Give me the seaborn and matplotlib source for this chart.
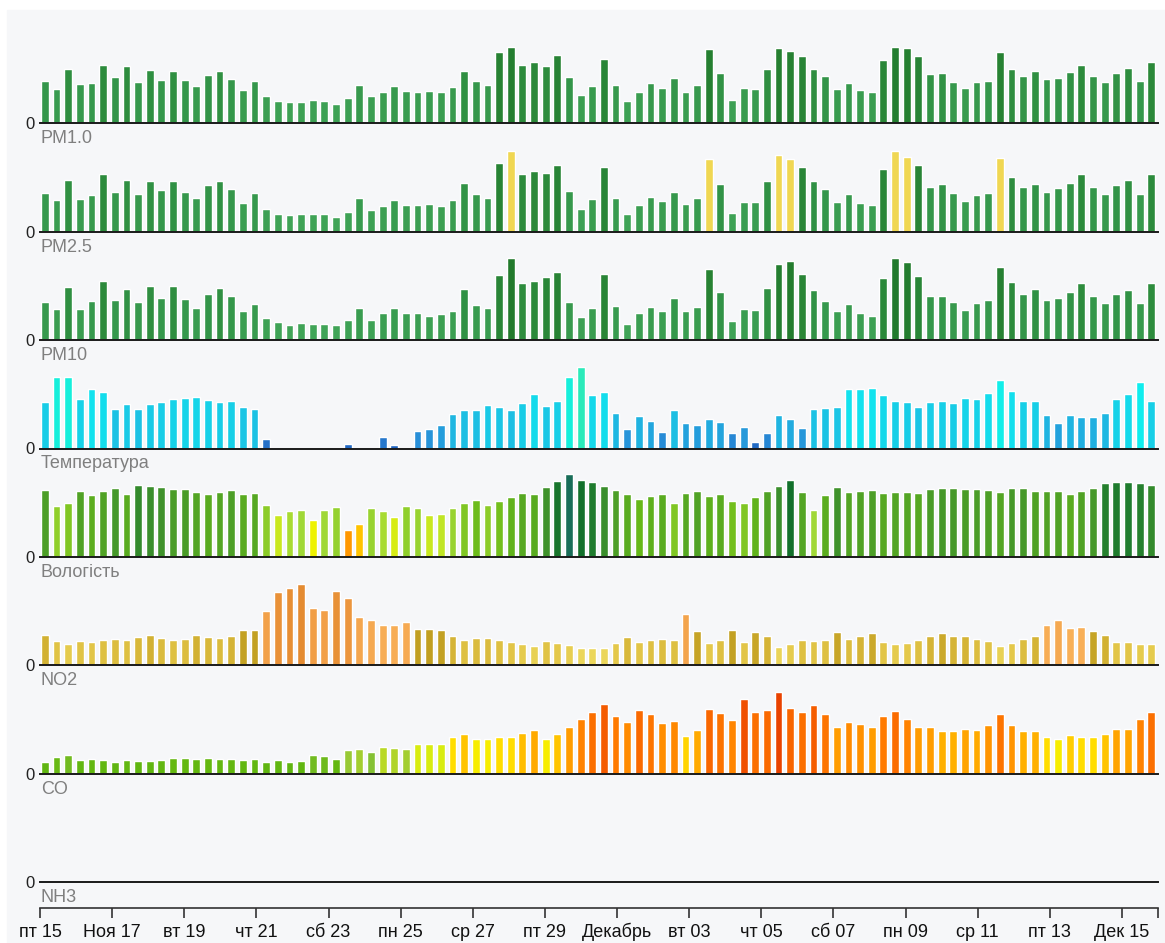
import numpy as np
import pandas as pd
import matplotlib
matplotlib.use("Agg")
import matplotlib.pyplot as plt
from matplotlib.colors import LinearSegmentedColormap, to_hex
from matplotlib.patches import Rectangle
import seaborn as sns

# ========================
# Data (one bar every 7h45m, 15 Nov -> 16 Dec)
# ========================

interval_h = 7.75

pm1 = [42, 34, 54, 39, 40, 58, 46, 57, 41, 53,
       43, 52, 43, 37, 48, 52, 44, 33, 42, 27,
       22, 21, 21, 23, 22, 19, 25, 38, 27, 31,
       37, 32, 31, 32, 31, 36, 52, 42, 38, 71,
       76, 58, 61, 57, 68, 46, 28, 37, 64, 38,
       22, 31, 40, 35, 45, 31, 38, 74, 50, 23,
       35, 34, 54, 75, 72, 67, 54, 47, 34, 40,
       33, 31, 63, 76, 75, 67, 49, 50, 41, 35,
       41, 42, 71, 54, 47, 52, 44, 45, 51, 58,
       47, 41, 50, 55, 42, 61]

pm25 = [39, 32, 52, 33, 37, 58, 40, 52, 38, 51,
        42, 51, 40, 34, 47, 51, 43, 29, 39, 23,
        18, 17, 18, 18, 18, 15, 20, 34, 22, 26,
        32, 27, 27, 28, 26, 32, 49, 38, 34, 69,
        81, 58, 61, 59, 67, 41, 23, 33, 65, 34,
        18, 27, 35, 31, 40, 28, 34, 73, 48, 19,
        30, 30, 51, 77, 73, 65, 51, 43, 30, 38,
        29, 27, 63, 81, 75, 67, 45, 48, 39, 31,
        37, 39, 74, 55, 45, 48, 40, 44, 49, 58,
        45, 38, 47, 52, 38, 58]

pm10 = [38, 31, 53, 31, 39, 59, 40, 51, 38, 54,
        42, 54, 41, 32, 46, 52, 44, 29, 36, 22,
        18, 15, 17, 16, 16, 15, 20, 32, 20, 27,
        32, 27, 27, 24, 26, 29, 51, 35, 32, 65,
        82, 57, 59, 63, 68, 38, 23, 32, 66, 34,
        16, 27, 33, 29, 42, 29, 33, 71, 48, 19,
        31, 30, 52, 76, 79, 66, 50, 39, 29, 36,
        27, 24, 62, 82, 78, 64, 44, 44, 38, 30,
        37, 40, 73, 58, 46, 51, 40, 42, 48, 57,
        44, 37, 46, 50, 37, 57]

temp = [47, 72, 72, 50, 60, 57, 40, 45, 40, 45,
        47, 50, 51, 52, 49, 47, 48, 42, 40, 10,
        0, 0, 0, 0, 0, 0, 5, 0, 0, 12,
        4, 0, 18, 20, 24, 35, 39, 39, 44, 42,
        39, 46, 55, 43, 48, 72, 82, 54, 57, 36,
        20, 33, 28, 17, 39, 26, 24, 30, 27, 16,
        22, 7, 16, 34, 30, 21, 40, 41, 42, 60,
        60, 61, 54, 48, 47, 42, 47, 48, 46, 51,
        50, 56, 69, 58, 48, 48, 34, 26, 34, 32,
        32, 36, 50, 55, 67, 48]

hum = [67, 51, 54, 66, 62, 66, 69, 63, 72, 71,
       70, 68, 68, 65, 63, 65, 67, 63, 64, 52,
       42, 46, 47, 37, 47, 50, 27, 33, 49, 46,
       40, 51, 49, 42, 43, 49, 54, 57, 52, 56,
       60, 64, 63, 70, 76, 83, 77, 75, 71, 67,
       63, 58, 61, 63, 54, 64, 66, 61, 63, 56,
       54, 60, 66, 71, 77, 65, 47, 62, 70, 65,
       66, 67, 64, 65, 65, 64, 68, 69, 69, 68,
       68, 67, 65, 69, 69, 66, 66, 66, 63, 66,
       69, 74, 75, 75, 74, 72]

no2 = [30, 24, 21, 24, 23, 25, 26, 25, 28, 30,
       27, 25, 26, 30, 28, 27, 29, 35, 35, 54,
       73, 77, 81, 57, 55, 74, 67, 48, 45, 40,
       40, 43, 36, 36, 35, 29, 25, 27, 27, 25,
       23, 21, 19, 24, 22, 20, 17, 17, 17, 22,
       28, 23, 25, 26, 25, 51, 34, 22, 25, 35,
       23, 33, 29, 18, 21, 25, 24, 25, 33, 26,
       29, 32, 23, 21, 22, 25, 29, 32, 29, 29,
       26, 24, 19, 22, 26, 29, 40, 45, 37, 38,
       34, 30, 23, 23, 21, 21]

co = [12, 17, 19, 14, 15, 14, 12, 14, 13, 13,
      14, 16, 16, 15, 16, 15, 15, 14, 15, 12,
      14, 12, 13, 19, 18, 15, 24, 25, 22, 27,
      26, 25, 30, 30, 30, 37, 40, 35, 35, 37,
      37, 41, 44, 35, 40, 47, 55, 62, 70, 58,
      52, 64, 60, 51, 53, 38, 44, 65, 61, 54,
      75, 62, 64, 82, 66, 62, 69, 60, 47, 52,
      50, 47, 58, 63, 55, 47, 47, 43, 43, 45,
      44, 49, 60, 49, 43, 43, 37, 35, 39, 37,
      37, 40, 45, 45, 55, 62]

nh3 = []

panel_names = ["PM1.0", "PM2.5", "PM10", "Температура", "Вологість", "NO2", "CO", "NH3"]

tick_labels = ["пт 15", "Ноя 17", "вт 19", "чт 21", "сб 23", "пн 25", "ср 27", "пт 29",
               "Декабрь", "вт 03", "чт 05", "сб 07", "пн 09", "ср 11", "пт 13", "Дек 15"]
n_days = 31

# ========================
# Colour scales
# ========================

def ramp(stops):
    lo, hi = stops[0][0], stops[-1][0]
    cmap = LinearSegmentedColormap.from_list("r", [((v - lo) / (hi - lo), c) for v, c in stops])
    return lambda v: to_hex(cmap(np.clip((v - lo) / (hi - lo), 0, 1)))

green = ramp([(15, "#40a457"), (45, "#34964a"), (60, "#2b893a"), (82, "#227a2c")])

def pm25_color(v):
    return "#f0d752" if v >= 71 else green(v)

temp_color = ramp([(0, "#1a5cbc"), (10, "#2470c8"), (18, "#2890d8"), (28, "#22a6de"),
                   (40, "#1cc2e4"), (50, "#16d2e8"), (60, "#12e2ee"), (68, "#10eeee"),
                   (74, "#18f0d2"), (84, "#30e8b4")])

hum_color = ramp([(25, "#ff8a00"), (33, "#ffc400"), (37, "#eef200"), (42, "#c8e820"),
                  (47, "#a0d836"), (52, "#8ccc28"), (58, "#66b818"), (64, "#56a822"),
                  (68, "#4a9c28"), (71, "#3a8e2c"), (75, "#1f7c2e"), (78, "#0c6a2a"),
                  (84, "#1a6e60")])

no2_low = ramp([(15, "#eedc62"), (22, "#e4c84a"), (28, "#d8b83a"), (33, "#c8a628"), (36.5, "#c09e20")])
no2_high = ramp([(36.5, "#f8b058"), (55, "#f2a048"), (82, "#e48a30")])

def no2_color(v):
    return no2_high(v) if v > 36.5 else no2_low(v)

co_color = ramp([(10, "#5eb412"), (16, "#64b810"), (20, "#78bc28"), (23, "#8cc43a"),
                 (26, "#b0d42a"), (30, "#d8ec10"), (34, "#f4f400"), (37, "#ffdc00"),
                 (41, "#ffbc00"), (45, "#ffa400"), (50, "#ff9000"), (58, "#ff7a00"),
                 (66, "#f86400"), (75, "#f05000"), (83, "#e84000")])

panels = [(panel_names[0], pm1, green), (panel_names[1], pm25, pm25_color),
          (panel_names[2], pm10, green), (panel_names[3], temp, temp_color),
          (panel_names[4], hum, hum_color), (panel_names[5], no2, no2_color),
          (panel_names[6], co, co_color), (panel_names[7], nh3, None)]

# ========================
# Figure
# ========================

sns.set_style("white")
plt.rcParams["font.family"] = ["Liberation Sans", "DejaVu Sans"]

W, H = 1165, 943
fig = plt.figure(figsize=(W / 100, H / 100), dpi=100, facecolor="white")
fig.patches.append(Rectangle((7 / W, 0), 1, 1 - 10 / H, transform=fig.transFigure,
                             color="#f6f7f9", zorder=-10))

per_day = 24 / interval_h
def day_pos(d):
    return d * per_day - 0.42

left, width = 40 / W, 1118 / W

for i, (name, vals, col) in enumerate(panels):
    base = 123.3 + 108.4 * i
    ax = fig.add_axes([left, 1 - base / H, width, 90 / H])
    ax.patch.set_visible(False)
    if vals:
        df = pd.DataFrame({"slot": np.arange(len(vals)), "value": vals})
        sns.barplot(data=df, x="slot", y="value", hue="slot",
                    palette=[col(v) for v in vals], legend=False,
                    width=0.67, saturation=1, errorbar=None, ax=ax)
    ax.set_xlim(day_pos(0), day_pos(n_days))
    ax.set_ylim(0, 90)
    for s in ["top", "left", "right"]:
        ax.spines[s].set_visible(False)
    ax.spines["bottom"].set_color("#1a1a1a")
    ax.spines["bottom"].set_linewidth(1.4)
    ax.set_xticks([])
    ax.set_yticks([0])
    ax.set_yticklabels(["0"])
    ax.tick_params(axis="y", length=0, pad=4, labelsize=12, labelcolor="#222222")
    ax.set_xlabel("")
    ax.set_ylabel("")
    ax.annotate(name, xy=(0, 0), xycoords="axes fraction", xytext=(1, -7),
                textcoords="offset pixels", ha="left", va="top", fontsize=13, color="#7f7f7f")

# date axis
axd = fig.add_axes([left, 1 - 908.3 / H, width, 20 / H])
axd.patch.set_visible(False)
for s in ["top", "left", "right"]:
    axd.spines[s].set_visible(False)
axd.spines["bottom"].set_color("#333333")
axd.spines["bottom"].set_linewidth(1.2)
axd.set_xlim(day_pos(0), day_pos(n_days))
ticks = [day_pos(d) for d in range(0, n_days, 2)] + [day_pos(n_days)]
axd.set_xticks(ticks)
axd.set_xticklabels(tick_labels + [""])
axd.set_yticks([])
axd.tick_params(axis="x", bottom=True, direction="out", length=7.5, width=1.2,
                color="#333333", pad=13, labelsize=13, labelcolor="#111111")
for lab in axd.get_xticklabels():
    lab.set_verticalalignment("baseline")

fig.savefig("out.png", dpi=100, facecolor="white")
